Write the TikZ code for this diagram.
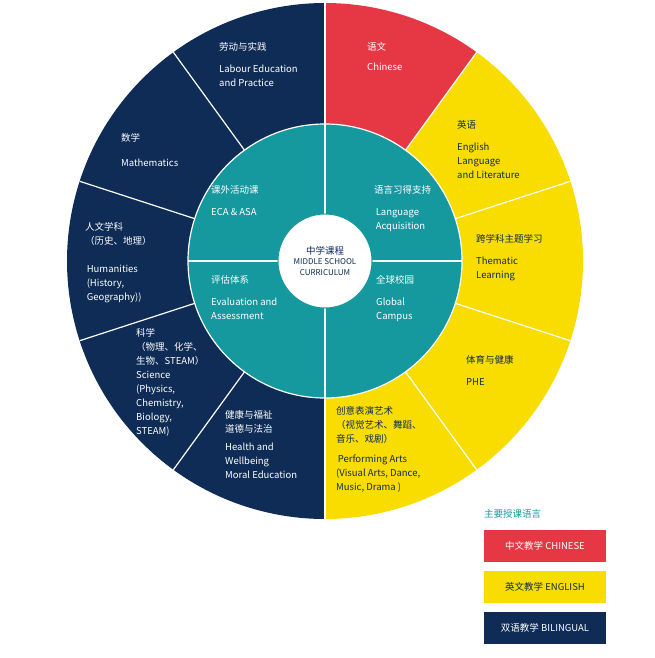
\documentclass[tikz,border=0pt]{standalone}
\usepackage{fontspec}
\setmainfont{Noto Sans CJK SC}
\begin{document}
\begin{tikzpicture}[x=1pt,y=-1pt,
  lbl/.style={anchor=north west,align=left,inner sep=0pt,font=\fontsize{9.5}{14}\selectfont},
  wl/.style={lbl,text=white},
  dl/.style={lbl,text=navyc},
  sep/.style={draw=white,line width=1.2pt},
  legbox/.style={minimum width=122pt,minimum height=32pt,inner sep=0pt,text=white,font=\fontsize{9.5}{12}\selectfont}]
\definecolor{navyc}{HTML}{0E2C55}
\definecolor{yelc}{HTML}{F9DC00}
\definecolor{redc}{HTML}{E53844}
\definecolor{tealc}{HTML}{15999E}
\useasboundingbox (0,0) rectangle (655,658);
\coordinate (c) at (325,261);
\def\R{258}
% outer sectors (angles in y-flipped frame: use negative)
\foreach \a/\b/\col in {90/54/redc,54/18/yelc,18/-18/yelc,-18/-54/yelc,-54/-90/yelc,90/126/navyc,126/162/navyc,162/198/navyc,198/234/navyc,234/270/navyc}{
  \fill[\col] (c) -- ++({cos(\a)*\R},{-sin(\a)*\R}) arc[start angle=-\a,end angle=-\b,radius=\R] -- cycle;
}
\foreach \a in {54,18,-18,-54,126,162,198,234}{
  \draw[sep] (c) -- ++({cos(\a)*\R},{-sin(\a)*\R});
}
\draw[sep] (325,3) -- (325,519);
\fill[tealc] (c) circle[radius=137];
\draw[sep] (c) circle[radius=137];
\draw[sep] (188,261) -- (462,261);
\draw[sep] (325,124) -- (325,398);
\node[circle,fill=white,draw=tealc,line width=1pt,minimum size=94pt,inner sep=0pt,align=center,font=\fontsize{8}{10.5}\selectfont,text=navyc] (ctr) at (c) {\fontsize{9.5}{11}\selectfont 中学课程\\MIDDLE SCHOOL\\CURRICULUM};
% outer labels
\node[wl] (l1) at (367,42) {语文\\[6pt]Chinese};
\node[dl] (l2) at (457,120) {英语\\[8pt]English\\Language\\and Literature};
\node[dl] (l3) at (476,234) {跨学科主题学习\\[8pt]Thematic\\Learning};
\node[dl] (l4) at (466,355) {体育与健康\\[8pt]PHE};
\node[dl] (l5) at (336,406) {创意表演艺术\\（视觉艺术、舞蹈、\\音乐、戏剧）\\[6pt]\,Performing Arts\\(Visual Arts, Dance,\\Music, Drama )};
\node[wl] (l6) at (219,42) {劳动与实践\\[8pt]Labour Education\\and Practice};
\node[wl] (l7) at (121,133) {数学\\[11pt]Mathematics};
\node[wl] (l8) at (85,222) {人文学科\\（历史、地理）\\[14pt]\,Humanities\\\,(History,\\\,Geography))};
\node[wl] (l9) at (136,328) {科学\\（物理、化学、\\生物、STEAM）\\Science\\(Physics,\\Chemistry,\\Biology,\\STEAM)};
\node[wl] (l10) at (225,410) {健康与福祉\\道德与法治\\[4pt]Health and\\Wellbeing\\Moral Education};
% inner labels
\node[wl] (i1) at (211,185) {课外活动课\\[8pt]ECA \& ASA};
\node[wl] (i2) at (374,185) {语言习得支持\\[8pt]\,Language\\\,Acquisition};
\node[wl] (i3) at (211,275) {评估体系\\[8pt]Evaluation and\\Assessment};
\node[wl] (i4) at (376,275) {全球校园\\[8pt]Global\\Campus};
% legend
\node[anchor=west,text=tealc,font=\fontsize{9.5}{12}\selectfont,inner sep=0pt] (lt) at (484,514) {主要授课语言};
\node[legbox,fill=redc] (k1) at (545,546) {中文教学 CHINESE};
\node[legbox,fill=yelc,text=navyc] (k2) at (545,587) {英文教学 ENGLISH};
\node[legbox,fill=navyc] (k3) at (545,628) {双语教学 BILINGUAL};
\end{tikzpicture}
\end{document}
